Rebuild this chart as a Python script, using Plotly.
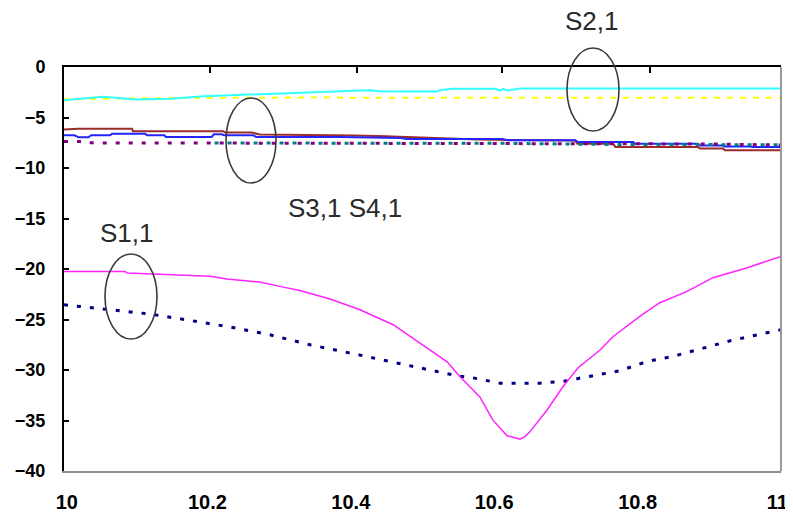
import plotly.graph_objects as go

# ---------------- data ----------------
s11_x = [10.000, 10.085, 10.088, 10.158, 10.204, 10.227, 10.273, 10.301, 10.329, 10.371,
         10.413, 10.459, 10.497, 10.534, 10.552, 10.580, 10.598, 10.612, 10.618, 10.626,
         10.636, 10.643, 10.650, 10.674, 10.696, 10.717, 10.748, 10.766, 10.803, 10.831,
         10.869, 10.905, 10.953, 11.000]
s11_y = [-20.24, -20.24, -20.40, -20.56, -20.73, -20.99, -21.29, -21.72, -22.12, -22.97,
         -24.03, -25.52, -27.33, -29.16, -30.64, -32.66, -34.94, -36.10, -36.52, -36.65,
         -36.85, -36.59, -36.10, -33.94, -31.64, -29.78, -28.00, -26.68, -24.70, -23.34,
         -22.22, -20.86, -19.87, -18.75]

s11sim_x = [10.000, 10.064, 10.120, 10.176, 10.232, 10.287, 10.343, 10.399, 10.455, 10.510,
            10.548, 10.570, 10.608, 10.664, 10.702, 10.720, 10.775, 10.813, 10.849, 10.887,
            10.925, 10.961, 11.000]
s11sim_y = [-23.54, -24.03, -24.46, -25.09, -25.75, -26.51, -27.50, -28.32, -29.16, -30.05,
            -30.57, -30.77, -31.30, -31.30, -31.07, -30.80, -30.08, -29.16, -28.66, -27.93,
            -27.18, -26.61, -26.02]

s21_x = [10.000, 10.054, 10.102, 10.148, 10.194, 10.273, 10.367, 10.427, 10.441, 10.469,
         10.520, 10.524, 10.541, 10.601, 10.608, 10.612, 10.618, 10.636, 11.000]
s21_y = [-3.29, -2.95, -3.22, -3.15, -2.89, -2.66, -2.46, -2.30, -2.40, -2.43,
         -2.43, -2.30, -2.16, -2.16, -2.33, -2.16, -2.33, -2.13, -2.13]

s21sim_x = [10.000, 10.100, 10.300, 11.000]
s21sim_y = [-3.20, -3.10, -3.03, -3.05]

s31_x = [10.000, 10.019, 10.095, 10.096, 10.222, 10.225, 10.262, 10.273, 10.406, 10.448,
         10.577, 10.713, 10.716, 10.766, 10.769, 10.884, 10.887, 10.919, 10.922, 11.000]
s31_y = [-6.19, -6.12, -6.12, -6.36, -6.36, -6.49, -6.49, -6.69, -6.79, -6.86,
         -7.19, -7.28, -7.61, -7.61, -7.91, -7.91, -8.08, -8.08, -8.25, -8.25]

s41_x = [10.000, 10.015, 10.020, 10.034, 10.038, 10.064, 10.067, 10.113, 10.116, 10.140,
         10.142, 10.206, 10.209, 10.220, 10.223, 10.264, 10.268, 10.385, 10.469, 10.478,
         10.612, 10.618, 10.713, 10.717, 10.794, 10.796, 10.883, 10.886, 10.918, 10.921,
         10.957, 10.960, 11.000]
s41_y = [-6.76, -6.76, -6.96, -6.96, -6.76, -6.76, -6.62, -6.62, -6.76, -6.76,
         -6.92, -6.92, -6.66, -6.66, -6.76, -6.76, -6.92, -6.92, -7.02, -7.12,
         -7.12, -7.25, -7.25, -7.43, -7.43, -7.61, -7.61, -7.76, -7.76, -7.88,
         -7.88, -7.93, -7.93]

s41sim_x = [10.000, 10.028, 10.032, 10.600, 10.900, 11.000]
s41sim_y = [-7.38, -7.38, -7.51, -7.55, -7.62, -7.72]

s31sim_x = [10.210, 10.600, 10.750, 11.000]
s31sim_y = [-7.53, -7.55, -7.66, -7.70]

# label positions as placed in the reference (edge labels sit slightly inside)
x_tick_vals = [10.004, 10.2, 10.4, 10.6, 10.8, 10.995]
x_tick_text = ["10", "10.2", "10.4", "10.6", "10.8", "11"]
top_tick_vals = [10.204, 10.409, 10.611, 10.817]
y_tick_vals = [0, -5, -10, -15, -20, -25, -30, -35, -40]

labels = ["S2,1", "S3,1 S4,1", "S1,1"]

# ---------------- figure ----------------
# the page body has an 8px margin, so the figure is 8px smaller and offset
OFF = 8
W, H = 793 - OFF, 516 - OFF
L, T = 64 - OFF, 67 - OFF
R, B = 12, 45
PW, PH = W - L - R, H - T - B


def px_to_paper(px, py):
    """page pixel (reference coordinates) -> paper coords"""
    return (px - OFF - L) / PW, (H - B - (py - OFF)) / PH


fig = go.Figure()

def line(x, y, color, width, dash="solid", axis="x"):
    fig.add_trace(go.Scatter(x=x, y=y, mode="lines", xaxis=axis,
                             line=dict(color=color, width=width, dash=dash),
                             hoverinfo="skip", showlegend=False))

line(s31_x, s31_y, "#9C2B2B", 2)
line(s41_x, s41_y, "#2424FF", 2)
line(s41sim_x, s41sim_y, "#800080", 3, "4px,9px")
line(s31sim_x, s31sim_y, "#008080", 3, "4px,9px")
line(s21sim_x, s21sim_y, "#FFFF00", 2, "6px,7px")
line(s21_x, s21_y, "#33FFFF", 2, axis="x2")
line(s11sim_x, s11sim_y, "#000080", 3, "4px,9px")
line(s11_x, s11_y, "#FF22FF", 1.5)

tick_font = dict(family="Liberation Sans, Arial, sans-serif", color="black", weight="bold")

fig.update_layout(
    width=W, height=H,
    margin=dict(l=L, r=R, t=T, b=B, pad=0, autoexpand=False),
    paper_bgcolor="white", plot_bgcolor="white",
    showlegend=False,
    xaxis=dict(range=[10, 11], tickvals=x_tick_vals, ticktext=x_tick_text,
               showgrid=False, zeroline=False, showline=True, linecolor="#8c8c8c",
               linewidth=2, ticks="", tickfont=dict(size=20, **tick_font),
               ticklabelstandoff=12, automargin=False, fixedrange=True),
    xaxis2=dict(range=[10, 11], overlaying="x", side="top", anchor="y",
                tickvals=top_tick_vals, showticklabels=False, ticks="inside",
                ticklen=6, tickwidth=2, tickcolor="black",
                showgrid=False, zeroline=False, showline=True, linecolor="black",
                linewidth=2, automargin=False, fixedrange=True),
    yaxis=dict(range=[-40, 0], tickvals=y_tick_vals, showgrid=False, zeroline=False,
               showline=True, linecolor="black", linewidth=2, ticks="inside",
               ticklen=5, tickwidth=2, tickcolor="black",
               tickfont=dict(size=18, **tick_font), ticklabelstandoff=13,
               automargin=False, fixedrange=True),
)

# right border of the plot area
fig.add_shape(type="line", xref="paper", yref="paper", x0=1, x1=1, y0=0, y1=1,
              line=dict(color="#9a9a9a", width=2))

# ellipses (reference pixel boxes converted to paper coords)
ellipse_boxes = [(567, 48, 619, 131), (226, 98, 276, 183), (105, 254, 157, 339)]
for (ax0, ay0, ax1, ay1) in ellipse_boxes:
    x0, y1 = px_to_paper(ax0, ay0)
    x1, y0 = px_to_paper(ax1, ay1)
    fig.add_shape(type="circle", xref="paper", yref="paper",
                  x0=x0, x1=x1, y0=y0, y1=y1,
                  line=dict(color="#3a3a3a", width=1.6))

label_pos = [(592, 21), (345, 208), (127, 233)]
for txt, (lx, ly) in zip(labels, label_pos):
    xp, yp = px_to_paper(lx, ly)
    fig.add_annotation(x=xp, y=yp, xref="paper", yref="paper", text=txt,
                       showarrow=False, xanchor="center", yanchor="middle",
                       borderpad=0,
                       font=dict(family="Liberation Sans, Arial, sans-serif",
                                 size=26, color="#2a2a2a"))

fig.write_html("out.html")
